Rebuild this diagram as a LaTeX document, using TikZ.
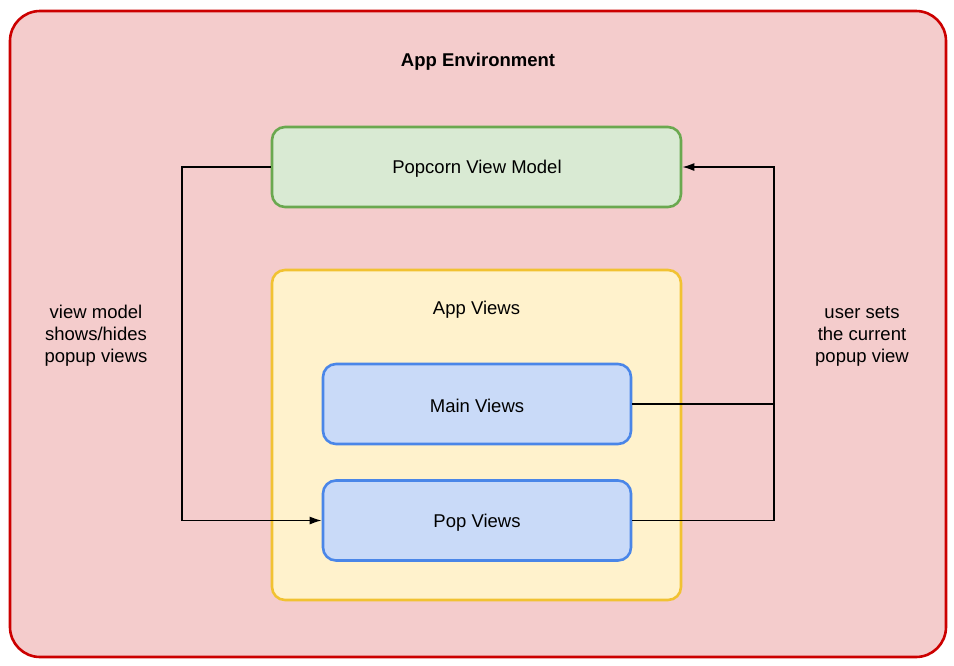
\documentclass[tikz,border=0pt]{standalone}
\usepackage{fontspec}
\setmainfont{Liberation Sans}
\usetikzlibrary{arrows.meta}
\definecolor{envfill}{HTML}{F4CCCC}
\definecolor{envdraw}{HTML}{CC0000}
\definecolor{vmfill}{HTML}{D9EAD3}
\definecolor{vmdraw}{HTML}{6AA84F}
\definecolor{avfill}{HTML}{FFF2CC}
\definecolor{avdraw}{HTML}{F1C232}
\definecolor{bfill}{HTML}{C9DAF8}
\definecolor{bdraw}{HTML}{4A86E8}
\tikzset{
  box/.style={draw, line width=2.6pt, rounded corners=13pt, minimum width=#1, inner sep=0pt},
  txt/.style={align=center, font=\fontsize{18.5}{22}\selectfont},
  conn/.style={line width=1.5pt, draw=black},
  arr/.style={conn, -{Latex[length=12pt,width=8pt]}}
}
\begin{document}
\begin{tikzpicture}[x=1pt,y=-1pt]
\useasboundingbox (0,0) rectangle (954,665);
\node[draw=envdraw, fill=envfill, line width=2.6pt, rounded corners=30pt, minimum width=936pt, minimum height=646pt, inner sep=0pt] (env) at (478,334) {};
\node[txt, font=\fontsize{18.5}{22}\selectfont\bfseries] (envt) at (478,61.5) {App Environment};
\node[box=409pt, draw=vmdraw, fill=vmfill, minimum height=80pt] (vm) at (476.5,167) {};
\node[txt] (vmt) at (477,169) {Popcorn View Model};
\node[box=409pt, draw=avdraw, fill=avfill, minimum height=330pt] (av) at (476.5,435) {};
\node[txt] (avt) at (476.5,309.5) {App Views};
\node[box=308pt, draw=bdraw, fill=bfill, minimum height=80pt] (mv) at (477,404) {};
\node[txt] (mvt) at (477,406) {Main Views};
\node[box=308pt, draw=bdraw, fill=bfill, minimum height=80pt] (pv) at (477,520.5) {};
\node[txt] (pvt) at (477,522.5) {Pop Views};
\coordinate (lc) at (182,0);
\coordinate (rc) at (774,0);
\draw[arr] (vm.west) -- (lc |- vm.west) -- (lc |- pv.west) -- (pv.west);
\draw[conn] (mv.east) -- (rc |- mv.east);
\draw[arr] (pv.east) -- (rc |- pv.east) -- (rc |- vm.east) -- (vm.east);
\node[txt] (ll) at (96,336) {view model\\shows/hides\\popup views};
\node[txt] (rl) at (862,336) {user sets\\the current\\popup view};
\end{tikzpicture}
\end{document}
